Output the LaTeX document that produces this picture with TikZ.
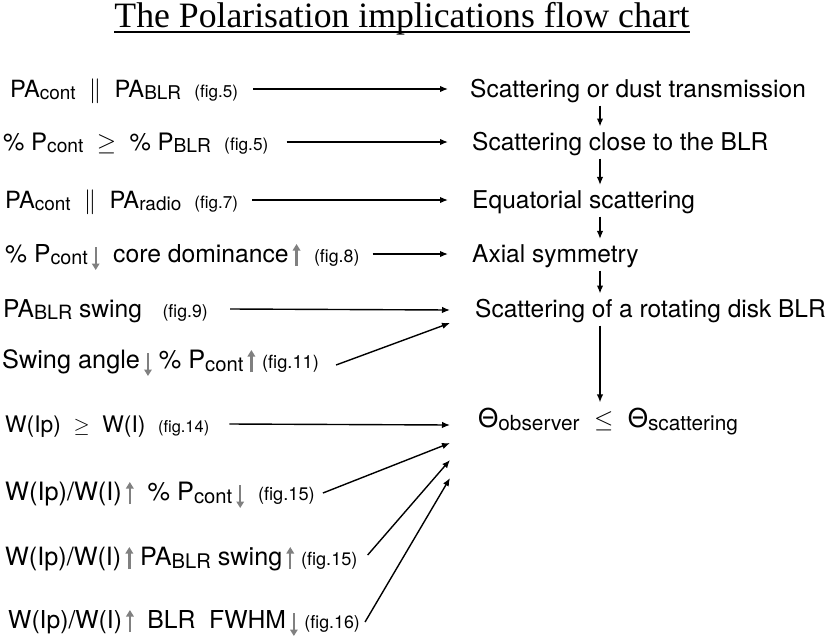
\documentclass[tikz,border=0pt]{standalone}
\usepackage[no-math]{fontspec}
\setmainfont{TeX Gyre Heros}
\newfontfamily\titlefont{Liberation Serif}
\usetikzlibrary{arrows.meta,calc}

% small subscripts, figure references and the grey trend arrows
\makeatletter
\newcommand{\sbs}[1]{\raisebox{-0.12em}{\fontsize{\the\dimexpr\f@size pt*4/5\relax}{0pt}\selectfont #1}}
\newcommand{\figref}[1]{{\fontsize{\the\dimexpr\f@size pt*72/100\relax}{0pt}\selectfont(fig.#1)}}
\makeatother
\newcommand{\uparr}{\tikz[baseline=0pt]\draw[gray,line width=2.4pt,-{Triangle[length=6.5pt,width=7.5pt]}] (0pt,-4pt) -- (0pt,18pt);}
\newcommand{\dnarr}{\tikz[baseline=0pt]\draw[gray,line width=2.4pt,-{Triangle[length=6.5pt,width=7.5pt]}] (0pt,15pt) -- (0pt,-8pt);}
\newcommand{\fs}[1]{\fontsize{#1}{26}\selectfont}

\begin{document}
\begin{tikzpicture}[x=1pt, y=-1pt,
    lbl/.style={anchor=base west, inner sep=0pt, font=\fs{23}},
    res/.style={anchor=base west, inner sep=0pt, font=\fs{24.5}},
    arr/.style={line width=1.4pt, -{Latex[length=8pt,width=6.5pt]}},
    vstep/.style={arr, shorten <=3pt, shorten >=5pt}]
  \useasboundingbox (0,0) rectangle (830,635);
  % title
  \node[anchor=base, inner sep=0pt, font=\titlefont\fontsize{35.7}{40}\selectfont] (title) at (402,27)
    {The Polarisation implications flow chart};
  \draw[line width=1.6pt] ($(title.base west)+(0,5)$) -- ($(title.base east)+(0,5)$);

  % conclusions (right column)
  \node[res] (scat)  at (470,97)  {Scattering or dust transmission};
  \node[res] (close) at (472,150) {Scattering close to the BLR};
  \node[res] (equat) at (472,208) {Equatorial scattering};
  \node[res] (axial) at (472,262) {Axial symmetry};
  \node[res] (disk)  at (475,317) {Scattering of a rotating disk BLR};
  \node[res, font=\fs{26}] (theta) at (478,427) {Θ\sbs{observer} \ $\leq$\ \ Θ\sbs{scattering}};
  \coordinate (axis) at (600,0);
  \draw[vstep] (scat.south -| axis)  -- (close.north -| axis);
  \draw[vstep] (close.south -| axis) -- (equat.north -| axis);
  \draw[vstep] (equat.south -| axis) -- (axial.north -| axis);
  \draw[vstep] (axial.south -| axis) -- (disk.north -| axis);
  \draw[vstep] (disk.south -| axis)  -- (theta.north -| axis);

  % observations (left column)
  \node[lbl, font=\fs{23.7}] (o1)  at (10,97)  {PA\sbs{cont} \ $\parallel$\ \ PA\sbs{BLR} \ \figref{5}};
  \node[lbl, font=\fs{24}]   (o2)  at (3,150)  {\% P\sbs{cont} \ $\geq$\ \ \% P\sbs{BLR} \ \figref{5}};
  \node[lbl, font=\fs{23.7}] (o3)  at (5,208)  {PA\sbs{cont} \ $\parallel$\ \ PA\sbs{radio} \ \figref{7}};
  \node[lbl, font=\fs{24.7}] (o4)  at (5,262)  {\% P\sbs{cont}\,\dnarr\ \ core dominance\,\uparr\ \ \figref{8}};
  \node[lbl, font=\fs{24.6}] (o5)  at (3,317)  {PA\sbs{BLR} swing \ \ \figref{9}};
  \node[lbl, font=\fs{25.3}] (o6)  at (2,368)  {Swing angle\,\dnarr\ \% P\sbs{cont}\,\uparr\ \figref{11}};
  \node[lbl, font=\fs{22.8}] (o7)  at (5,432)  {W(Ip) \ $\geq$\ \ W(I) \ \figref{14}};
  \node[lbl, font=\fs{25.3}] (o8)  at (5,500)  {W(Ip)/W(I)\,\uparr\ \ \% P\sbs{cont}\,\dnarr\ \ \figref{15}};
  \node[lbl, font=\fs{25.2}] (o9)  at (5,565)  {W(Ip)/W(I)\,\uparr\ PA\sbs{BLR} swing\,\uparr\ \figref{15}};
  \node[lbl, font=\fs{24.7}] (o10) at (8,628)  {W(Ip)/W(I)\,\uparr\ \ BLR\ \ FWHM\,\dnarr\ \figref{16}};

  \draw[arr] ($(o1.base east)+(15,-8)$)  -- ($(scat.base west)+(-22,-8)$);
  \draw[arr] ($(o2.base east)+(18,-8)$)  -- ($(close.base west)+(-24,-8)$);
  \draw[arr] ($(o3.base east)+(14,-8)$)  -- ($(equat.base west)+(-24,-8)$);
  \draw[arr] ($(o4.base east)+(13,-8)$)  -- ($(axial.base west)+(-24,-8)$);
  \draw[arr] ($(o5.base east)+(22,-8)$)  -- ($(disk.base west)+(-25,-7)$);
  \draw[arr] ($(o6.base east)+(17,-3)$)  -- ($(disk.base west)+(-25,6)$);
  \draw[arr] ($(o7.base east)+(20,-8)$)  -- ($(theta.base west)+(-28,-2)$);
  \draw[arr] ($(o8.base east)+(8,-7)$)   -- ($(theta.base west)+(-28,16)$);
  \draw[arr] ($(o9.base east)+(10,-10)$) -- ($(theta.base west)+(-28,33)$);
  \draw[arr] ($(o10.base east)+(5,-6)$)  -- ($(theta.base west)+(-28,51)$);
\end{tikzpicture}
\end{document}
